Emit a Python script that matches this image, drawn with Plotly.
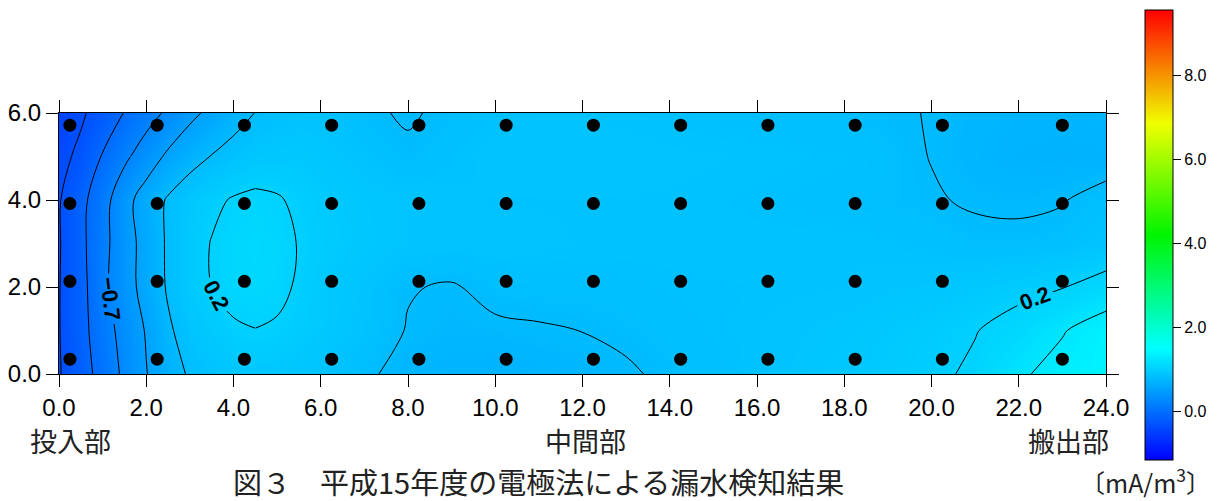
import plotly.graph_objects as go

# Grid on which the leak-detection current was mapped (m)
grid_x = [0, 0.5, 1, 1.5, 2, 2.5, 3, 3.5, 4, 4.5, 5, 5.5, 6, 7, 8, 9, 10, 11, 12,
          13, 14, 16, 18, 19, 20, 21, 22, 23, 24]
grid_y = [0, 1, 2, 3, 4, 5, 6]

# Current density per row of the grid (mA/m3), bottom row first
row_y0 = [-1.32, -1.12, -0.90, -0.64, -0.41, -0.22, -0.07, 0.00, 0.05, 0.07, 0.06, 0.04, 0.02,
          -0.07, -0.16, -0.19, -0.20, -0.18, -0.15, -0.12, -0.07, 0.00, 0.08, 0.11, 0.15, 0.24,
          0.46, 0.60, 0.67]
row_y1 = [-1.31, -1.10, -0.83, -0.60, -0.38, -0.14, 0.02, 0.10, 0.17, 0.195, 0.17, 0.13, 0.09,
          0.00, -0.11, -0.14, -0.13, -0.115, -0.098, -0.07, -0.04, 0.00, 0.05, 0.09, 0.13, 0.19,
          0.30, 0.48, 0.66]
row_y2 = [-1.31, -1.10, -0.77, -0.52, -0.30, -0.07, 0.09, 0.20, 0.27, 0.29, 0.26, 0.17, 0.10,
          0.02, -0.09, -0.115, -0.05, -0.04, -0.04, -0.03, -0.02, -0.01, 0.00, 0.02, 0.04, 0.08,
          0.13, 0.19, 0.30]
row_y3 = [-1.32, -1.07, -0.79, -0.52, -0.30, -0.06, 0.10, 0.21, 0.28, 0.30, 0.27, 0.19, 0.13,
          0.07, 0.03, 0.02, 0.01, 0.01, 0.00, 0.00, 0.00, 0.00, 0.00, -0.01, -0.03, -0.055,
          -0.06, -0.04, 0.03]
row_y4 = [-1.32, -1.08, -0.82, -0.50, -0.27, -0.07, 0.06, 0.15, 0.22, 0.25, 0.22, 0.16, 0.11,
          0.06, 0.03, 0.01, 0.00, 0.00, 0.00, 0.00, 0.00, -0.02, -0.04, -0.06, -0.085, -0.12,
          -0.13, -0.11, -0.03]
row_y5 = [-1.38, -1.24, -0.98, -0.76, -0.55, -0.35, -0.20, -0.09, 0.00, 0.06, 0.08, 0.08, 0.06,
          0.00, -0.07, -0.02, 0.02, 0.03, 0.03, 0.02, 0.01, 0.00, -0.02, -0.05, -0.105, -0.16,
          -0.19, -0.20, -0.19]
row_y6 = [-1.45, -1.34, -1.18, -0.99, -0.82, -0.65, -0.47, -0.33, -0.21, -0.095, -0.04, 0.00,
          0.00, -0.07, -0.12, -0.06, -0.02, 0.00, 0.00, -0.01, -0.02, -0.04, -0.06, -0.085,
          -0.105, -0.15, -0.17, -0.17, -0.16]
grid_z = [row_y0, row_y1, row_y2, row_y3, row_y4, row_y5, row_y6]

# Electrode positions
probe_x = [0.25, 2.25, 4.25, 6.25, 8.25, 10.25, 12.25, 14.25, 16.25, 18.25, 20.25, 23.0]
probe_y = [0.34, 2.13, 3.92, 5.72]

# Colour bar scale
bar_min, bar_max = -1.15, 9.55
bar_ticks = [0, 2, 4, 6, 8]
bar_ticktext = ["0.0", "2.0", "4.0", "6.0", "8.0"]

axis_ticks = [0, 2, 4, 6, 8, 10, 12, 14, 16, 18, 20, 22, 24]
y_ticks = [0, 2, 4, 6]

field_scale = [[0.0, "rgb(0,62,255)"], [0.636, "rgb(0,187,255)"], [1.0, "rgb(0,245,255)"]]
rainbow = [[0.0, "rgb(0,0,255)"], [0.248, "rgb(0,255,255)"], [0.5, "rgb(0,245,0)"],
           [0.748, "rgb(240,255,0)"], [1.0, "rgb(255,0,0)"]]

SANS = "Liberation Sans, Arial, sans-serif"
CJK = "Noto Sans CJK JP, sans-serif"

fig = go.Figure()

# smooth colour field
fig.add_trace(go.Heatmap(
    x=grid_x, y=grid_y, z=grid_z, zsmooth="best",
    colorscale=field_scale, zmin=-1.5, zmax=0.7, showscale=False, hoverinfo="skip"))


def iso_lines(start, end, size, labels, cols=None, rows=None):
    """Black iso-lines over a block of the grid (whole grid by default)."""
    c0, c1 = cols if cols else (0, len(grid_x))
    r0, r1 = rows if rows else (0, len(grid_y))
    return go.Contour(
        x=grid_x[c0:c1], y=grid_y[r0:r1], z=[r[c0:c1] for r in grid_z[r0:r1]],
        contours=dict(coloring="none", start=start, end=end, size=size,
                      showlabels=labels,
                      labelfont=dict(size=22, color="black", family=SANS, weight="bold"),
                      labelformat=".1f"),
        line=dict(color="black", width=1, smoothing=1.0),
        showscale=False, hoverinfo="skip")


fig.add_trace(iso_lines(-1.3, 0.5, 0.9, False))   # -1.3, -0.4, 0.5
fig.add_trace(iso_lines(-1.0, -0.1, 0.9, False))  # -1.0, -0.1
# -0.7: labelled below y = 5, plain above
fig.add_trace(iso_lines(-0.7, -0.7, 0.9, True, cols=(0, 6), rows=(0, 6)))
fig.add_trace(iso_lines(-0.7, -0.7, 0.9, False, cols=(0, 10), rows=(5, 7)))
# 0.2: labelled on the west half of the inlet ring and at the outlet
fig.add_trace(iso_lines(0.2, 0.2, 0.9, True, cols=(0, 10)))
fig.add_trace(iso_lines(0.2, 0.2, 0.9, False, cols=(9, 22)))
fig.add_trace(iso_lines(0.2, 0.2, 0.9, True, cols=(21, 29)))

# electrodes
px, py = [], []
for yy in probe_y:
    for xx in probe_x:
        px.append(xx)
        py.append(yy)
fig.add_trace(go.Scatter(x=px, y=py, mode="markers",
                         marker=dict(color="black", size=13), hoverinfo="skip",
                         showlegend=False))

# colour bar
fig.add_trace(go.Scatter(
    x=[None], y=[None], mode="markers", showlegend=False,
    marker=dict(color=[bar_min, bar_max], cmin=bar_min, cmax=bar_max, colorscale=rainbow,
                showscale=True,
                colorbar=dict(thickness=28, thicknessmode="pixels", len=450, lenmode="pixels",
                              x=1.0372, xanchor="left", xpad=0, y=0.5326, yanchor="middle",
                              ypad=0, outlinewidth=1, outlinecolor="black",
                              tickvals=bar_ticks, ticktext=bar_ticktext, ticks="outside",
                              ticklen=8, tickcolor="black",
                              tickfont=dict(size=16, family=SANS, color="black")))))

fig.update_xaxes(range=[0, 24], tickvals=axis_ticks, tickformat=".1f", ticks="outside",
                 ticklen=12, tickcolor="black", showline=True, linecolor="black", mirror="ticks",
                 showgrid=False, zeroline=False, automargin=False,
                 tickfont=dict(size=24, family=SANS, color="black"))
fig.update_yaxes(range=[0, 6], tickvals=y_ticks, tickformat=".1f", ticks="outside",
                 ticklen=12, tickcolor="black", showline=True, linecolor="black", mirror="ticks",
                 showgrid=False, zeroline=False, automargin=False,
                 tickfont=dict(size=24, family=SANS, color="black"))

notes = [
    dict(x=0.26, text="投入部"),
    dict(x=12.06, text="中間部"),
    dict(x=23.13, text="搬出部"),
]
annotations = [dict(x=n["x"], y=-0.253, xref="x", yref="paper", text=n["text"],
                    showarrow=False, xanchor="center", yanchor="middle",
                    font=dict(size=27, family=CJK, color="#222"))
               for n in notes]
annotations.append(dict(x=0.4575, y=-0.41, xref="paper", yref="paper",
                        text="図３\u3000平成15年度の電極法による漏水検知結果",
                        showarrow=False, xanchor="center", yanchor="middle",
                        font=dict(size=29, family=CJK, color="#222")))
annotations.append(dict(x=1.1022, y=-0.41, xref="paper", yref="paper",
                        text="〔mA/m<sup>3</sup>〕",
                        showarrow=False, xanchor="right", yanchor="middle",
                        font=dict(size=25, family=CJK, color="#222")))

fig.update_layout(
    width=1224, height=501,
    margin=dict(l=59, r=118, t=113, b=127, autoexpand=False),
    paper_bgcolor="white", plot_bgcolor="white",
    showlegend=False,
    annotations=annotations,
)

fig.write_html("out.html")
